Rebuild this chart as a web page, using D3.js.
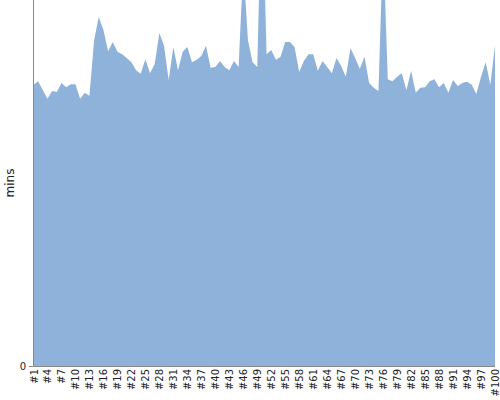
<!DOCTYPE html>
<html>
<head>
<meta charset="utf-8">
<script src="https://cdn.jsdelivr.net/npm/d3@7"></script>
<style>
	body { margin: 0; background: #fff; }
	text { font-family: "DejaVu Sans", Verdana, sans-serif; fill: #222; }
</style>
</head>
<body>
<div id="chart"></div>
<script>
// run labels #1..#100
const runs = d3.range(1, 101).map(d => `#${d}`);

// minutes per run
const mins = [
	46.1, 46.7, 45.2, 43.8, 45.1, 44.9, 46.4, 45.7, 46.2, 46.2,
	43.8, 44.8, 44.3, 53.4, 57.2, 55.1, 51.6, 53.1, 51.5, 51.1,
	50.5, 49.8, 48.5, 47.9, 50.3, 48.0, 49.5, 54.6, 52.5, 46.9,
	52.3, 48.5, 51.5, 52.3, 49.8, 50.2, 50.8, 52.5, 48.9, 49.0,
	50.0, 49.0, 48.5, 50.0, 49.0, 65.7, 53.4, 49.8, 49.0, 79.7,
	51.1, 51.8, 50.2, 50.7, 53.1, 53.1, 52.3, 48.2, 50.0, 51.1,
	51.1, 48.4, 50.0, 49.0, 48.0, 50.5, 49.2, 47.4, 52.1, 50.5,
	48.7, 50.7, 46.4, 45.6, 45.1, 69.8, 47.0, 46.7, 47.4, 48.0,
	45.2, 48.4, 44.8, 45.6, 45.7, 46.7, 47.0, 45.7, 46.4, 44.8,
	46.9, 45.9, 46.4, 46.6, 46.1, 44.6, 47.4, 49.8, 46.1, 52.6
];

// only every third run gets a label
const tickLabels = runs.filter((d, i) => i % 3 === 0);
const yTicks = [0];
const yLabel = 'mins';

const width = 500;
const height = 400;
const margin = {t:0, r:5, b:34, l:33};
const w = width - margin.l - margin.r;
const h = height - margin.t - margin.b;

const data = runs.map((r, i) => ({run:r, value:mins[i]}));

//Scales
const scaleX = d3.scalePoint().domain(runs).range([0.5, w]);
const scaleY = d3.scaleLinear().domain([0, 60]).range([h, 0]);

//Shape generator
const areaGenerator = d3.area()
	.x(d => scaleX(d.run))
	.y0(h)
	.y1(d => scaleY(d.value));

//Build DOM
const svg = d3.select('#chart').append('svg')
	.attr('width', width)
	.attr('height', height);

svg.append('defs').append('clipPath')
	.attr('id', 'clip')
	.append('rect')
	.attr('width', w + 1)
	.attr('height', h);

const plot = svg.append('g')
	.attr('transform', `translate(${margin.l},${margin.t})`);

plot.append('path')
	.datum(data)
	.attr('class', 'area')
	.attr('clip-path', 'url(#clip)')
	.attr('d', areaGenerator)
	.attr('fill', '#8fb2db');

// axes
const axisX = d3.axisBottom()
	.scale(scaleX)
	.tickValues(tickLabels)
	.tickSize(0)
	.tickPadding(3);

const axisY = d3.axisLeft()
	.scale(scaleY)
	.tickValues(yTicks)
	.tickSize(4)
	.tickPadding(3);

const axisXNode = plot.append('g')
	.attr('class', 'axis-x')
	.attr('transform', `translate(0,${h})`)
	.call(axisX);

axisXNode.select('.domain')
	.attr('d', `M0.5,0.5H${w}`)
	.style('stroke', '#888');

axisXNode.selectAll('text')
	.style('font-size', '10px')
	.attr('text-anchor', 'end')
	.attr('transform', 'rotate(-90)')
	.attr('x', -3)
	.attr('y', 0)
	.attr('dy', '0.35em');

const axisYNode = plot.append('g')
	.attr('class', 'axis-y')
	.call(axisY);

axisYNode.select('.domain')
	.attr('d', `M0.5,0V${h + 0.5}`)
	.style('stroke', '#888');

axisYNode.selectAll('line').style('stroke', '#888');
axisYNode.selectAll('text').style('font-size', '10px');

svg.append('text')
	.attr('transform', `translate(14,${h / 2}) rotate(-90)`)
	.attr('text-anchor', 'middle')
	.style('font-size', '12px')
	.text(yLabel);
</script>
</body>
</html>
